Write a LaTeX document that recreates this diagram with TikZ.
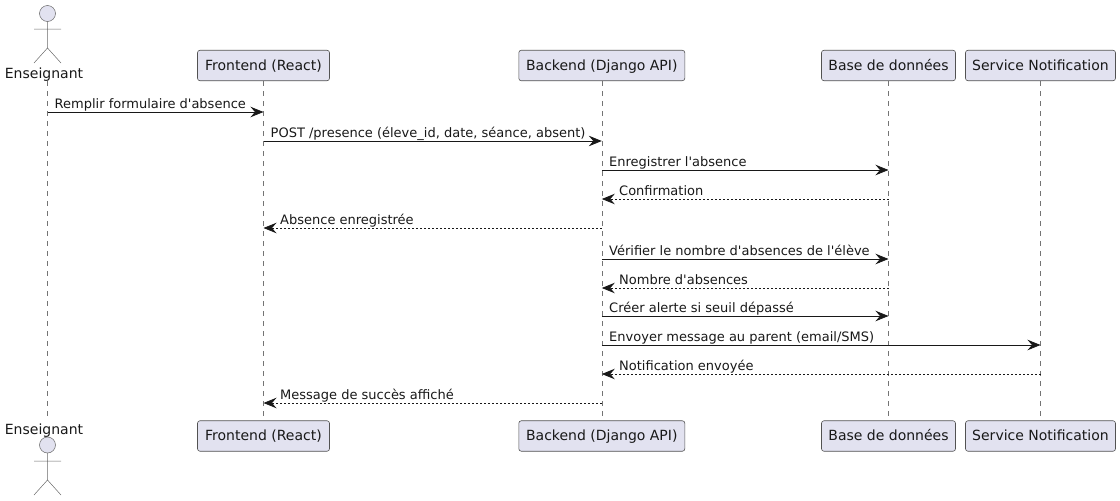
\documentclass[tikz,border=0pt]{standalone}
\usepackage{fontspec}
\setmainfont{DejaVu Sans}[Ligatures=TeXOff]
\usetikzlibrary{arrows.meta}
\definecolor{ink}{HTML}{181818}
\definecolor{boxfill}{HTML}{E2E2F0}
\tikzset{
  x=1pt,y=1pt,
  part/.style={draw=ink!75,line width=0.6pt,fill=boxfill,rounded corners=2.5pt,minimum height=30.5pt,inner sep=0pt,text height=11.7pt,text depth=2.3pt,font=\fontsize{14}{16}\selectfont,text=ink},
  life/.style={draw=ink!60,line width=0.5pt,dash pattern=on 5pt off 5pt},
  stick/.style={draw=ink!65,line width=0.5pt},
  head/.style={draw=ink!65,line width=0.5pt,fill=boxfill},
  msg/.style={draw=ink,line width=0.8pt,-{Stealth[length=13pt,width=10.5pt,inset=4.5pt]}},
  ret/.style={msg,dash pattern=on 2pt off 2pt},
  mtext/.style={anchor=base west,inner sep=0pt,font=\fontsize{13}{15}\selectfont,text=ink},
  atext/.style={anchor=base,inner sep=0pt,font=\fontsize{14}{16}\selectfont,text=ink}
}
\begin{document}
\begin{tikzpicture}
\useasboundingbox (0,0) rectangle (1120,-501);
% participants
\node[part,minimum width=132pt] (fe) at (263.5,-65.5) {Frontend (React)};
\node[part,minimum width=166pt] (be) at (601.8,-65.5) {Backend (Django API)};
\node[part,minimum width=134pt] (db) at (888.5,-65.5) {Base de données};
\node[part,minimum width=150pt] (sn) at (1040.5,-65.5) {Service Notification};
\node[part,minimum width=132pt] (fe2) at (263.5,-436) {Frontend (React)};
\node[part,minimum width=166pt] (be2) at (601.8,-436) {Backend (Django API)};
\node[part,minimum width=134pt] (db2) at (888.5,-436) {Base de données};
\node[part,minimum width=150pt] (sn2) at (1040.5,-436) {Service Notification};
\node[atext] (en) at (44,-78.5) {Enseignant};
\node[atext] (en2) at (44,-434.5) {Enseignant};
\coordinate (ea) at (47.5,-81);
\coordinate (eb) at (47.5,-418);
% actors
\draw[head] (47.5,-13.5) circle (8);
\draw[stick] (47.5,-21.5) -- (47.5,-48) (34,-29) -- (61,-29) (34,-63) -- (47.5,-48) -- (61,-63);
\draw[head] (47.5,-445) circle (8);
\draw[stick] (47.5,-453) -- (47.5,-480) (34,-461) -- (61,-461) (34,-495) -- (47.5,-480) -- (61,-495);
% lifelines
\draw[life] (ea) -- (eb);
\draw[life] (fe.south) -- (fe2.north);
\draw[life] (be.south) -- (be2.north);
\draw[life] (db.south) -- (db2.north);
\draw[life] (sn.south) -- (sn2.north);
% message rows
\coordinate (m1) at (0,-112);
\coordinate (m2) at (0,-141);
\coordinate (m3) at (0,-170);
\coordinate (m4) at (0,-199);
\coordinate (m5) at (0,-228);
\coordinate (m6) at (0,-259);
\coordinate (m7) at (0,-288);
\coordinate (m8) at (0,-316);
\coordinate (m9) at (0,-345);
\coordinate (m10) at (0,-374);
\coordinate (m11) at (0,-403);
\draw[msg] (ea |- m1) -- (fe |- m1);
\draw[msg] (fe |- m2) -- (be |- m2);
\draw[msg] (be |- m3) -- (db |- m3);
\draw[ret] (db |- m4) -- (be |- m4);
\draw[ret] (be |- m5) -- (fe |- m5);
\draw[msg] (be |- m6) -- (db |- m6);
\draw[ret] (db |- m7) -- (be |- m7);
\draw[msg] (be |- m8) -- (db |- m8);
\draw[msg] (be |- m9) -- (sn |- m9);
\draw[ret] (sn |- m10) -- (be |- m10);
\draw[ret] (be |- m11) -- (fe |- m11);
\node[mtext] (t1) at (54.5,-108) {Remplir formulaire d'absence};
\node[mtext] (t2) at (270.5,-137) {POST /presence (éleve\_id, date, séance, absent)};
\node[mtext] (t3) at (609,-166) {Enregistrer l'absence};
\node[mtext] (t4) at (619,-195) {Confirmation};
\node[mtext] (t5) at (280,-224) {Absence enregistrée};
\node[mtext] (t6) at (609,-255) {Vérifier le nombre d'absences de l'élève};
\node[mtext] (t7) at (619,-284) {Nombre d'absences};
\node[mtext] (t8) at (609,-312) {Créer alerte si seuil dépassé};
\node[mtext] (t9) at (609,-341) {Envoyer message au parent (email/SMS)};
\node[mtext] (t10) at (619,-370) {Notification envoyée};
\node[mtext] (t11) at (280,-399) {Message de succès affiché};
\end{tikzpicture}
\end{document}
